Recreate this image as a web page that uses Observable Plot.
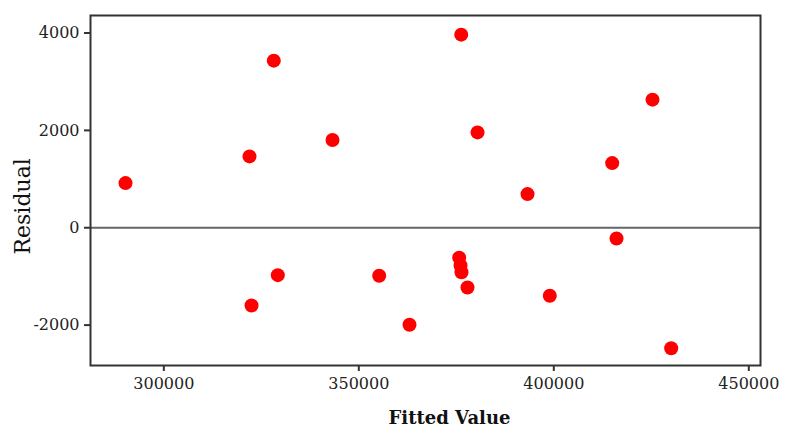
<!DOCTYPE html>
<html>
<head>
<meta charset="utf-8">
<script src="https://cdn.jsdelivr.net/npm/d3@7"></script>
<script src="https://cdn.jsdelivr.net/npm/@observablehq/plot@0.6"></script>
<style>
  html, body { margin: 0; padding: 0; background: #fff; }
  #chart svg { display: block; }
</style>
</head>
<body>
<div id="chart"></div>
<script>
const fitted = [290180, 321970, 322490, 328200, 329230, 343260, 355230, 363000, 375740, 376080,
                376330, 377870, 376260, 380440, 393260, 398970, 414970, 416080, 425310, 430100];
const residual = [917, 1466, -1597, 3433, -974, 1801, -987, -1994, -617, -775,
                  -913, -1227, 3967, 1959, 691, -1398, 1328, -220, 2631, -2475];
const xTicks = [300000, 350000, 400000, 450000];
const yTicks = [-2000, 0, 2000, 4000];
const xLabel = "Fitted Value";
const yLabel = "Residual";

const data = fitted.map((f, i) => ({fitted: f, residual: residual[i]}));

const chart = Plot.plot({
  width: 788,
  height: 428,
  marginLeft: 90,
  marginRight: 28,
  marginTop: 15,
  marginBottom: 63,
  style: {fontFamily: "'DejaVu Serif', serif", fontSize: "16px", color: "#222", background: "#fff"},
  x: {domain: [281200, 453000]},
  y: {domain: [-2830, 4360]},
  marks: [
    Plot.ruleY([0], {stroke: "#666", strokeWidth: 2}),
    Plot.dot(data, {x: "fitted", y: "residual", r: 7, fill: "#ff0000", stroke: "none"}),
    Plot.frame({stroke: "#333", strokeWidth: 2}),
    Plot.axisX(xTicks, {tickSize: 6, tickPadding: 6, tickFormat: d => String(d), label: null, strokeWidth: 2, stroke: "#333", fontSize: 16}),
    Plot.axisY(yTicks, {tickSize: 6, tickPadding: 5, tickFormat: d => String(d), label: null, strokeWidth: 2, stroke: "#333", fontSize: 16}),
    Plot.text([xLabel], {frameAnchor: "bottom", dx: 24, dy: 58, fontWeight: "bold", fontSize: 18, fill: "#111"}),
    Plot.text([yLabel], {frameAnchor: "left", dx: -68, dy: 64, rotate: -90, fontSize: 22, fill: "#111"})
  ]
});
document.getElementById("chart").appendChild(chart);
</script>
</body>
</html>
